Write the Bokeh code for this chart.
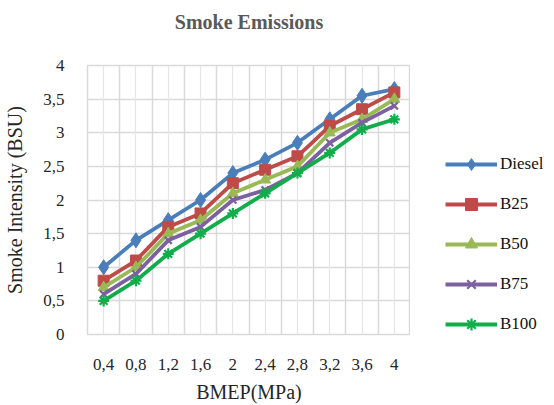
from bokeh.plotting import figure
from bokeh.layouts import row
from bokeh.models import (FixedTicker, Legend, LegendItem, Grid, LinearAxis,
                          CustomJSTickFormatter)
from bokeh.embed import file_html
from bokeh.resources import INLINE

# BMEP load points (category labels) and smoke readings in BSU
bmep_labels = ["0,4", "0,8", "1,2", "1,6", "2", "2,4", "2,8", "3,2", "3,6", "4"]
diesel = [1.0, 1.4, 1.7, 2.0, 2.4, 2.6, 2.85, 3.2, 3.55, 3.65]
b25 = [0.8, 1.1, 1.6, 1.8, 2.25, 2.45, 2.65, 3.1, 3.35, 3.6]
b50 = [0.7, 1.0, 1.5, 1.7, 2.1, 2.3, 2.5, 3.0, 3.2, 3.5]
b75 = [0.6, 0.9, 1.4, 1.6, 2.0, 2.15, 2.4, 2.85, 3.15, 3.4]
b100 = [0.5, 0.8, 1.2, 1.5, 1.8, 2.1, 2.4, 2.7, 3.05, 3.2]
y_ticks = [0, 0.5, 1, 1.5, 2, 2.5, 3, 3.5, 4]

FONT = "Liberation Serif"

series = [
    ("Diesel", diesel, "#4A7EBB", "diamond", 15),
    ("B25", b25, "#BE4B48", "square", 11),
    ("B50", b50, "#98B954", "triangle", 11),
    ("B75", b75, "#7D60A0", "x", 10),
    ("B100", b100, "#11AD4B", "asterisk", 11),
]

xs = list(range(len(bmep_labels)))


def draw_series(fig, vals, color, marker, size):
    ln = fig.line(xs, vals, line_color=color, line_width=3.8)
    if marker in ("x", "asterisk"):
        sc = fig.scatter(xs, vals, marker=marker, size=size, line_color=color,
                         line_width=2.2)
    else:
        sc = fig.scatter(xs, vals, marker=marker, size=size, fill_color=color,
                         line_color=color)
    return ln, sc


p = figure(width=410, height=405, output_backend="svg", toolbar_location=None,
           x_range=(-0.5, len(bmep_labels) - 0.5), y_range=(0, 4),
           min_border_left=87, min_border_right=0,
           min_border_top=65, min_border_bottom=70)

p.background_fill_color = "white"
p.border_fill_color = "white"
p.outline_line_color = "#d9d9d9"
p.outline_line_width = 1.5

# Gridlines: horizontal every 0.5, vertical at category edges and centres
p.ygrid.ticker = FixedTicker(ticks=y_ticks)
p.ygrid.grid_line_color = "#d9d9d9"
p.ygrid.grid_line_width = 1.5
edges = [i - 0.5 for i in range(len(bmep_labels) + 1)]
p.xgrid.ticker = FixedTicker(ticks=edges)
p.xgrid.grid_line_color = "#d9d9d9"
p.xgrid.grid_line_width = 1.5
p.add_layout(Grid(dimension=0, ticker=FixedTicker(ticks=xs),
                  grid_line_color="#e6e6e6", grid_line_width=1.2))

# Axes
p.xaxis.ticker = FixedTicker(ticks=xs)
p.xaxis.formatter = CustomJSTickFormatter(args=dict(labels=bmep_labels),
                                          code="return labels[Math.round(tick)]")
p.yaxis.ticker = FixedTicker(ticks=y_ticks)
p.yaxis.formatter = CustomJSTickFormatter(code="return tick.toString().replace('.', ',')")
for ax in (p.xaxis, p.yaxis):
    ax.axis_line_color = None
    ax.major_tick_line_color = None
    ax.minor_tick_line_color = None
    ax.major_label_text_font = FONT
    ax.major_label_text_font_size = "17px"
    ax.major_label_text_color = "#262626"
    ax.axis_label_text_font = FONT
    ax.axis_label_text_font_style = "normal"
    ax.axis_label_text_color = "#262626"
    ax.axis_label_text_font_size = "20px"

p.xaxis.axis_label = "BMEP(MPa)"
p.xaxis.major_label_standoff = 18
p.xaxis.axis_label_standoff = 8
p.yaxis.axis_label = "Smoke Intensity (BSU)"
p.yaxis.major_label_standoff = 17
p.yaxis.axis_label_standoff = 14

# Chart heading carried by a bare axis above the frame; its bounds set where
# the heading is centred
head = LinearAxis(ticker=FixedTicker(ticks=[]), axis_line_color=None,
                  major_tick_line_color=None, minor_tick_line_color=None,
                  major_label_standoff=0, bounds=(1.0, 8.96),
                  axis_label="Smoke Emissions", axis_label_standoff=33,
                  axis_label_text_font=FONT, axis_label_text_font_size="20px",
                  axis_label_text_font_style="bold",
                  axis_label_text_color="#595959")
p.add_layout(head, "above")

for name, vals, color, marker, size in series:
    draw_series(p, vals, color, marker, size)

# Legend panel to the right of the chart; its ranges keep the copies of the
# series out of view so only the legend glyphs show
lg = figure(width=144, height=405, output_backend="svg", toolbar_location=None,
            x_range=(100, 101), y_range=(100, 101),
            x_axis_type=None, y_axis_type=None, min_border=0)
lg.outline_line_color = None
lg.grid.visible = False
lg.border_fill_color = "white"
lg.background_fill_color = "white"

items = []
for name, vals, color, marker, size in series:
    ln, sc = draw_series(lg, vals, color, marker, size)
    items.append(LegendItem(label=name, renderers=[ln, sc]))

legend = Legend(items=items, location=(35, -5),
                background_fill_alpha=0, border_line_alpha=0,
                padding=0, margin=0, spacing=10,
                glyph_width=52, glyph_height=30, label_standoff=3,
                label_text_font=FONT, label_text_font_size="17px",
                label_text_color="#111111")
lg.add_layout(legend)

open("out.html", "w").write(file_html(row(p, lg), INLINE))
